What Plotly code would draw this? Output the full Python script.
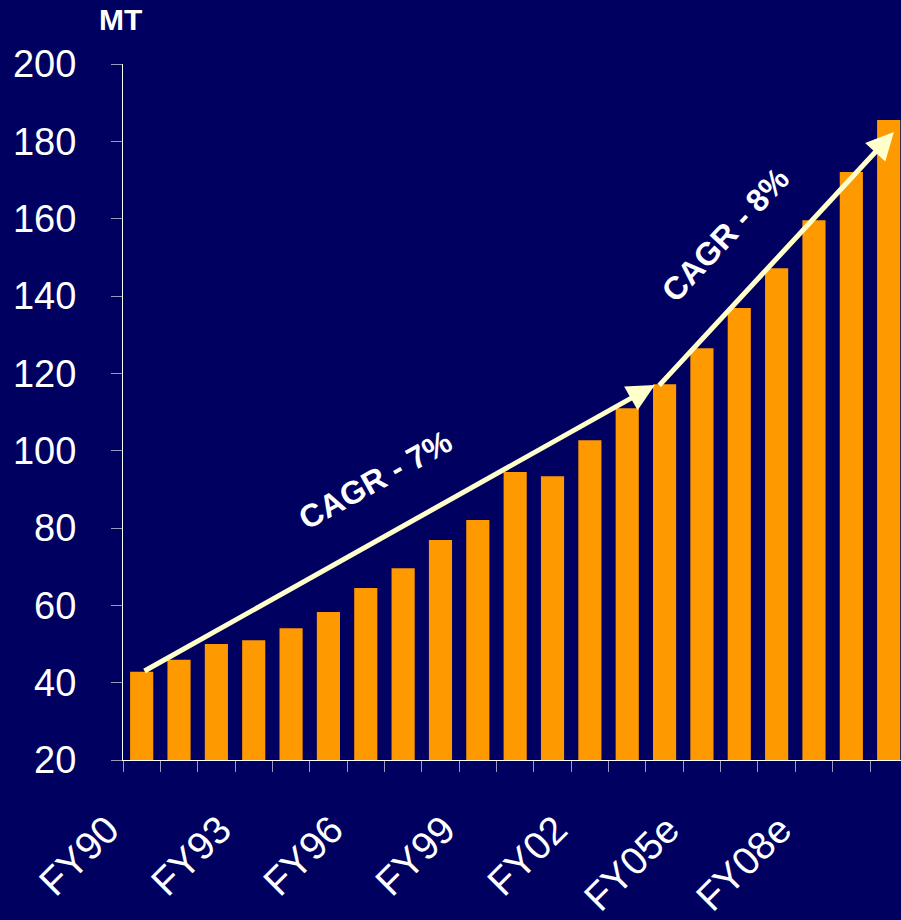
import plotly.graph_objects as go

categories = ["FY90", "FY91", "FY92", "FY93", "FY94", "FY95", "FY96", "FY97", "FY98", "FY99",
              "FY00", "FY01", "FY02", "FY03", "FY04e", "FY05e", "FY06e", "FY07e", "FY08e", "FY09e", "FY10e"]
values = [42.8, 45.9, 50.0, 51.0, 54.1, 58.3, 64.5, 69.6, 76.9, 82.1,
          94.5, 93.4, 102.7, 111.0, 117.2, 126.5, 136.9, 147.2, 159.6, 172.1, 185.5]
tick_labels = ["FY90", "", "", "FY93", "", "", "FY96", "", "", "FY99",
               "", "", "FY02", "", "", "FY05e", "", "", "FY08e", "", ""]
y_ticks = [20, 40, 60, 80, 100, 120, 140, 160, 180, 200]

# CAGR arrows: (tail index, tail value, head index, head value)
cagr_arrows = [(0.035, 42.8, 13.74, 117.0), (13.82, 116.5, 20.14, 182.4)]
cagr_labels = [("CAGR - 7%", 6.25, 92.4, -29), ("CAGR - 8%", 15.62, 155.8, -47)]

BG = "#000060"
FONT = "Liberation Sans, Arial, sans-serif"

fig = go.Figure()
fig.add_trace(go.Bar(x=categories, y=values, marker=dict(color="#FF9900", line=dict(width=0)),
                     hoverinfo="skip", cliponaxis=True))

annotations = []
for tx, ty, hx, hy in cagr_arrows:
    annotations.append(dict(x=hx, y=hy, ax=tx, ay=ty, xref="x", yref="y", axref="x", ayref="y",
                            text="", showarrow=True, arrowhead=2, arrowsize=1.1, arrowwidth=5,
                            arrowcolor="#FFFFCC", standoff=0, startstandoff=0))
for txt, cx, cy, ang in cagr_labels:
    annotations.append(dict(x=cx, y=cy, xref="x", yref="y", text="<b>%s</b>" % txt, showarrow=False,
                            textangle=ang, font=dict(family=FONT, size=32, color="white"),
                            xanchor="center", yanchor="middle"))
annotations.append(dict(x=0, y=1, xref="paper", yref="paper", text="<b>MT</b>", showarrow=False,
                        xanchor="center", yanchor="middle", xshift=-3, yshift=45,
                        font=dict(family=FONT, size=30, color="white")))

fig.update_layout(
    width=901, height=920,
    margin=dict(l=123, r=0, t=64, b=160, autoexpand=False),
    paper_bgcolor=BG, plot_bgcolor=BG,
    bargap=0.38,
    showlegend=False,
    annotations=annotations,
    font=dict(family=FONT, color="white"),
    xaxis=dict(type="category", range=[-0.5, 20.33],
               tickmode="array", tickvals=categories, ticktext=tick_labels,
               tickson="boundaries", ticks="outside", ticklen=11, tickwidth=1, tickcolor="#9a9ac0",
               showline=True, linecolor="#ffffff", linewidth=1, showgrid=False, automargin=False,
               tickangle=-45, tickfont=dict(family=FONT, size=39, color="white"),
               ticklabelstandoff=30, ticklabelshift=-34),
    yaxis=dict(range=[20, 200], tickmode="array", tickvals=y_ticks, ticks="outside", ticklen=11,
               tickwidth=1, tickcolor="#9a9ac0", showline=True, linecolor="#ffffff", linewidth=1,
               showgrid=False, zeroline=False, automargin=False,
               tickfont=dict(family=FONT, size=38, color="white"),
               ticklabelstandoff=27),
)

fig.write_html("out.html")
